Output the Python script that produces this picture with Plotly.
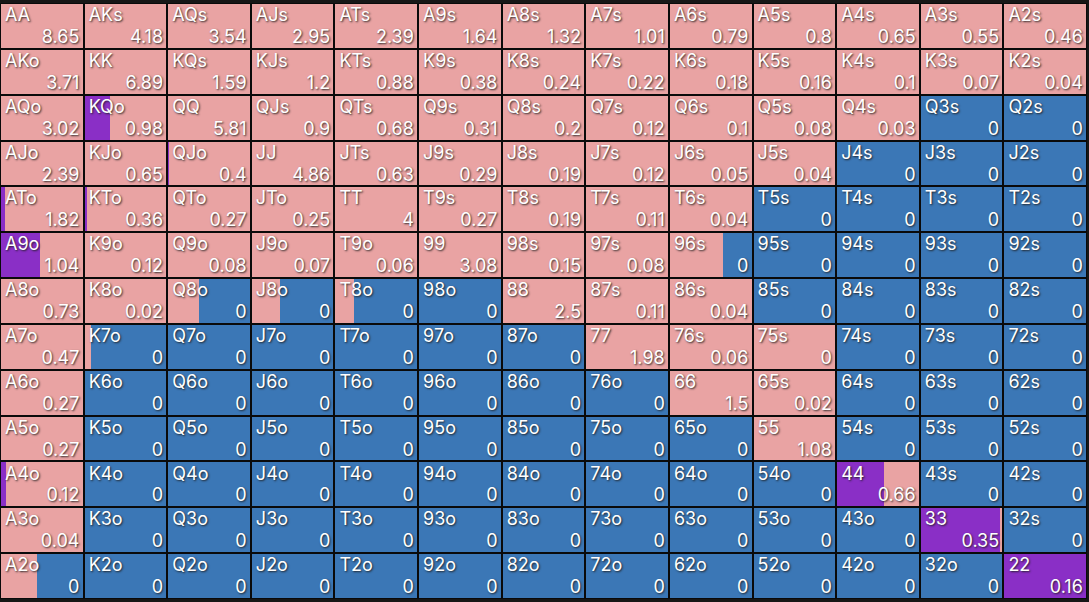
import plotly.graph_objects as go

ranks = ["A", "K", "Q", "J", "T", "9", "8", "7", "6", "5", "4", "3", "2"]

values = [
    [8.65, 4.18, 3.54, 2.95, 2.39, 1.64, 1.32, 1.01, 0.79, 0.8, 0.65, 0.55, 0.46],
    [3.71, 6.89, 1.59, 1.2, 0.88, 0.38, 0.24, 0.22, 0.18, 0.16, 0.1, 0.07, 0.04],
    [3.02, 0.98, 5.81, 0.9, 0.68, 0.31, 0.2, 0.12, 0.1, 0.08, 0.03, 0, 0],
    [2.39, 0.65, 0.4, 4.86, 0.63, 0.29, 0.19, 0.12, 0.05, 0.04, 0, 0, 0],
    [1.82, 0.36, 0.27, 0.25, 4, 0.27, 0.19, 0.11, 0.04, 0, 0, 0, 0],
    [1.04, 0.12, 0.08, 0.07, 0.06, 3.08, 0.15, 0.08, 0, 0, 0, 0, 0],
    [0.73, 0.02, 0, 0, 0, 0, 2.5, 0.11, 0.04, 0, 0, 0, 0],
    [0.47, 0, 0, 0, 0, 0, 0, 1.98, 0.06, 0, 0, 0, 0],
    [0.27, 0, 0, 0, 0, 0, 0, 0, 1.5, 0.02, 0, 0, 0],
    [0.27, 0, 0, 0, 0, 0, 0, 0, 0, 1.08, 0, 0, 0],
    [0.12, 0, 0, 0, 0, 0, 0, 0, 0, 0, 0.66, 0, 0],
    [0.04, 0, 0, 0, 0, 0, 0, 0, 0, 0, 0, 0.35, 0],
    [0, 0, 0, 0, 0, 0, 0, 0, 0, 0, 0, 0, 0.16],
]

# action frequencies per hand: purple share, pink share; remainder is blue
purple_freq = {
    "KQo": 0.31, "QJo": 0.025, "KTo": 0.035, "ATo": 0.06, "A9o": 0.48,
    "QTs": 0.012, "A4o": 0.07, "44": 0.57, "33": 0.965, "22": 1.0,
}
pink_freq_special = {
    "Q8o": 0.38, "J8o": 0.35, "T8o": 0.23, "96s": 0.65, "K7o": 0.09,
    "75s": 1.0, "A2o": 0.44, "33": 0.035, "22": 0.0,
}

PURPLE = "#8A2FC6"
PINK = "#E9A3A3"
BLUE = "#3B77B6"
BG = "#161616"


def hand_name(r, c):
    if r == c:
        return ranks[r] + ranks[c]
    if c > r:
        return ranks[r] + ranks[c] + "s"
    return ranks[c] + ranks[r] + "o"


ys, cols, names, vals = [], [], [], []
pur, pnk, blu = [], [], []
for r in range(13):
    for c in range(13):
        h = hand_name(r, c)
        v = values[r][c]
        p = purple_freq.get(h, 0.0)
        if h in pink_freq_special:
            k = pink_freq_special[h]
        else:
            k = (1.0 - p) if v > 0 else 0.0
        b = max(0.0, 1.0 - p - k)
        ys.append(r + 0.5)
        cols.append(c)
        names.append(h)
        vals.append(v)
        pur.append(p)
        pnk.append(k)
        blu.append(b)

fig = go.Figure()
fig.add_trace(go.Bar(orientation="h", y=ys, x=pur, base=cols, width=1,
                     marker=dict(color=PURPLE, line=dict(width=0)), hoverinfo="skip"))
fig.add_trace(go.Bar(orientation="h", y=ys, x=pnk, base=[c + p for c, p in zip(cols, pur)], width=1,
                     marker=dict(color=PINK, line=dict(width=0)), hoverinfo="skip"))
fig.add_trace(go.Bar(orientation="h", y=ys, x=blu, base=[c + p + k for c, p, k in zip(cols, pur, pnk)], width=1,
                     marker=dict(color=BLUE, line=dict(width=0)), hoverinfo="skip"))
# cell borders
fig.add_trace(go.Bar(orientation="h", y=ys, x=[1] * len(ys), base=cols, width=1,
                     marker=dict(color="rgba(0,0,0,0)", line=dict(color="#0a0a0a", width=2)),
                     hoverinfo="skip"))

shadow = "1px 1px 2px rgba(30,30,30,0.9)"
fig.add_trace(go.Scatter(
    x=[c + 0.06 for c in cols], y=[y - 0.5 + 0.1 for y in ys], text=names,
    mode="text", textposition="bottom right",
    textfont=dict(family="Inter, Roboto, sans-serif", size=18, color="white", shadow=shadow),
    hoverinfo="skip"))
fig.add_trace(go.Scatter(
    x=[c + 0.95 for c in cols], y=[y + 0.5 - 0.03 for y in ys], text=[f"{v:g}" for v in vals],
    mode="text", textposition="top left",
    textfont=dict(family="Inter, Roboto, sans-serif", size=18, color="white", shadow=shadow),
    hoverinfo="skip"))

fig.update_layout(
    width=1089, height=602,
    margin=dict(l=0, r=2, t=3, b=3),
    paper_bgcolor=BG, plot_bgcolor=BG,
    barmode="overlay", bargap=0,
    showlegend=False,
    xaxis=dict(range=[0, 13], visible=False, fixedrange=True),
    yaxis=dict(range=[13, 0], visible=False, fixedrange=True),
)

fig.write_html("out.html")
